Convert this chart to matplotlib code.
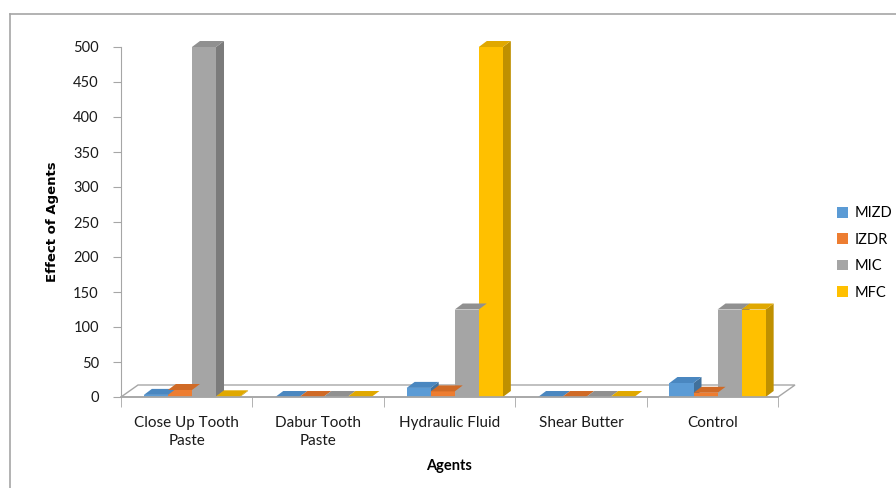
import matplotlib
matplotlib.use("Agg")
import matplotlib.pyplot as plt
from matplotlib.patches import Polygon, Patch
from matplotlib.lines import Line2D
import numpy as np

plt.rcParams['font.family'] = ['Lato', 'DejaVu Sans']

categories = ["Close Up Tooth\nPaste", "Dabur Tooth\nPaste", "Hydraulic Fluid", "Shear Butter", "Control"]
series_names = ["MIZD", "IZDR", "MIC", "MFC"]
mizd = [3, 0, 13, 0, 20]
izdr = [10, 0, 8, 0, 6]
mic = [500, 0, 125, 0, 125]
mfc = [1, 0, 500, 0, 125]
yticks = [0, 50, 100, 150, 200, 250, 300, 350, 400, 450, 500]

front_colors = ["#5B9BD5", "#ED7D31", "#A5A5A5", "#FFC000"]
side_colors = ["#41719C", "#AE5A21", "#7B7B7B", "#BF9000"]
top_colors = ["#4A87C0", "#D06A26", "#909090", "#E0A800"]

fig = plt.figure(figsize=(8.96, 4.88), dpi=100)
ax = fig.add_axes([121/896, (488-397)/488, 657/896, 350/488])
ax.set_xlim(-0.5, 4.5)
ax.set_ylim(0, 500)

# depth offsets (data units)
fdx, fdy = 17/131.4, 12/0.7
bdx, bdy = 8/131.4, 6/0.7

floor = Polygon([(-0.5, 0), (4.5, 0), (4.5+fdx, fdy), (-0.5+fdx, fdy)], closed=True,
                facecolor="white", edgecolor="#a6a6a6", lw=1.0, clip_on=False, zorder=1)
ax.add_patch(floor)

x = np.arange(len(categories))
bw = 0.183
all_series = [mizd, izdr, mic, mfc]
for i, vals in enumerate(all_series):
    xs = x + 0.04 + (i - 1.5) * bw
    ax.bar(xs, vals, width=bw, color=front_colors[i], zorder=3, clip_on=False)
    for xc, v in zip(xs, vals):
        l, r = xc - bw/2, xc + bw/2
        side = Polygon([(r, 0), (r+bdx, bdy), (r+bdx, v+bdy), (r, v)], closed=True,
                       facecolor=side_colors[i], edgecolor="none", zorder=2.5, clip_on=False)
        top = Polygon([(l, v), (r, v), (r+bdx, v+bdy), (l+bdx, v+bdy)], closed=True,
                      facecolor=top_colors[i], edgecolor="none", zorder=3.5, clip_on=False)
        ax.add_patch(side)
        ax.add_patch(top)

for s in ["top", "right"]:
    ax.spines[s].set_visible(False)
ax.spines["left"].set_color("#a6a6a6")
ax.spines["bottom"].set_color("#a6a6a6")
ax.spines["bottom"].set_linewidth(1.2)
ax.spines["bottom"].set_zorder(4)

ax.set_yticks(yticks)
ax.set_yticklabels([str(t) for t in yticks], fontsize=10.5, color="#1a1a1a")
ax.tick_params(axis="y", length=6, color="#a6a6a6", pad=10)

ax.set_xticks(x)
ax.set_xticklabels(categories, fontsize=11, linespacing=1.35, color="#1a1a1a")
ax.tick_params(axis="x", which="major", length=0, pad=14)
ax.set_xticks(np.arange(-0.5, 5, 1), minor=True)
ax.tick_params(axis="x", which="minor", length=7, color="#a6a6a6")

ax.set_xlabel("Agents", fontsize=10.5, fontweight="bold", labelpad=8)
ax.set_ylabel("Effect of Agents", fontsize=9.5, fontweight="bold", labelpad=10,
              family=['Liberation Sans Narrow', 'DejaVu Sans'])

handles = [Patch(facecolor=c, edgecolor="none") for c in front_colors]
fig.legend(handles, series_names, loc="center left", bbox_to_anchor=(824/896, 1 - 253/488),
           frameon=False, fontsize=10.5, handlelength=0.75, handleheight=0.75,
           handletextpad=0.45, labelspacing=0.85)

fig.add_artist(Line2D([10/896, 10/896], [0, 1 - 14/488], transform=fig.transFigure, color="#a6a6a6", lw=1.2))
fig.add_artist(Line2D([10/896, 1], [1 - 14/488, 1 - 14/488], transform=fig.transFigure, color="#a6a6a6", lw=1.2))

fig.savefig("out.png", dpi=100)
